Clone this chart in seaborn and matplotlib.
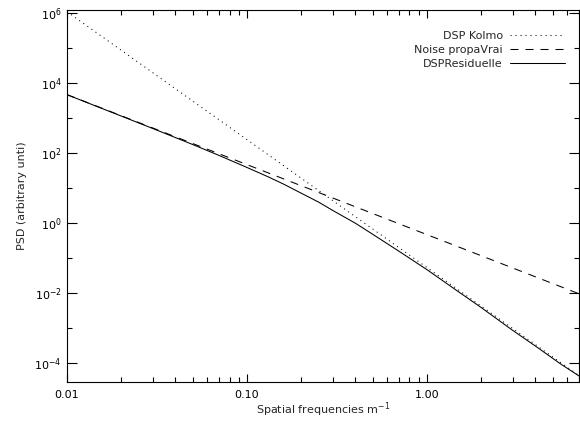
import numpy as np
import pandas as pd
import matplotlib
matplotlib.use("Agg")
import matplotlib.pyplot as plt
import matplotlib.ticker as mticker
import seaborn as sns

# ---- data ----
freq_kolmo = [0.01, 7.0]
psd_kolmo = [1.1e6, 4.4e-5]

freq_noise = [0.01, 7.0]
psd_noise = [4700.0, 9.6e-3]

freq_resid = [0.01, 0.02, 0.03, 0.05, 0.07, 0.1, 0.13, 0.16, 0.2, 0.25, 0.3, 0.4, 0.5, 0.7, 1.0, 1.5, 2.0, 3.0, 4.0, 5.5, 7.0]
psd_resid = [4680, 1150, 505, 176, 86, 39, 21.5, 13.0, 7.2, 4.0, 2.3, 1.0, 0.48, 0.157, 0.047, 0.0109, 0.0039, 8.6e-4, 3.1e-4, 9.7e-5, 4.3e-5]

labels = ["DSP Kolmo", "Noise propaVrai", "DSPResiduelle"]
xticks = [0.01, 0.1, 1.0]
xticklabels = ["0.01", "0.10", "1.00"]
yticks_exp = [-4, -2, 0, 2, 4, 6]

sns.set_style("ticks")
plt.rcParams["font.family"] = ["DejaVu Sans"]
plt.rcParams["mathtext.fontset"] = "dejavusans"

fig = plt.figure(figsize=(5.8, 4.21), dpi=100)
ax = fig.add_axes([67 / 580, 1 - 381.7 / 421, 512 / 580, 371.7 / 421])

lw = 0.75
sns.lineplot(x=freq_kolmo, y=psd_kolmo, ax=ax, color="black", lw=lw,
             linestyle=(0, (1, 3.8)), label=labels[0])
sns.lineplot(x=freq_noise, y=psd_noise, ax=ax, color="black", lw=lw,
             linestyle=(0, (7.7, 6.7)), label=labels[1])
sns.lineplot(x=freq_resid, y=psd_resid, ax=ax, color="black", lw=lw,
             linestyle="-", label=labels[2])

ax.set_xscale("log")
ax.set_yscale("log")
ax.set_xlim(0.01, 7.0)
ax.set_ylim(10 ** -4.53, 10 ** 6.09)

ax.xaxis.set_major_locator(mticker.FixedLocator(xticks))
ax.xaxis.set_major_formatter(mticker.FixedFormatter(xticklabels))
ax.xaxis.set_minor_locator(mticker.LogLocator(base=10, subs=np.arange(2, 10), numticks=20))
ax.xaxis.set_minor_formatter(mticker.NullFormatter())

ax.yaxis.set_major_locator(mticker.FixedLocator([10.0 ** e for e in yticks_exp]))
ax.yaxis.set_major_formatter(mticker.FixedFormatter(["10$^{%d}$" % e for e in yticks_exp]))
ax.yaxis.set_minor_locator(mticker.FixedLocator([10.0 ** e for e in [-5, -3, -1, 1, 3, 5]]))
ax.yaxis.set_minor_formatter(mticker.NullFormatter())

ax.tick_params(axis="both", which="both", direction="in", top=True, right=True,
               colors="black", labelsize=8, width=0.8)
ax.tick_params(axis="x", which="major", length=6, pad=6)
ax.tick_params(axis="x", which="minor", length=3.5)
ax.tick_params(axis="y", which="major", length=7, pad=4)
ax.tick_params(axis="y", which="minor", length=3.5)

for s in ax.spines.values():
    s.set_visible(True)
    s.set_color("black")
    s.set_linewidth(0.8)

ax.set_xlabel("Spatial frequencies m$^{-1}$", fontsize=8, labelpad=0)
ax.set_ylabel("PSD (arbitrary unti)", fontsize=8, labelpad=5)

leg = ax.legend(loc="upper right", bbox_to_anchor=(0.973, 0.944), frameon=False,
                markerfirst=False, fontsize=8, handlelength=5.0, handletextpad=0.6,
                labelspacing=0.35, borderpad=0, borderaxespad=0)

fig.savefig("out.png", dpi=100, facecolor="white")
